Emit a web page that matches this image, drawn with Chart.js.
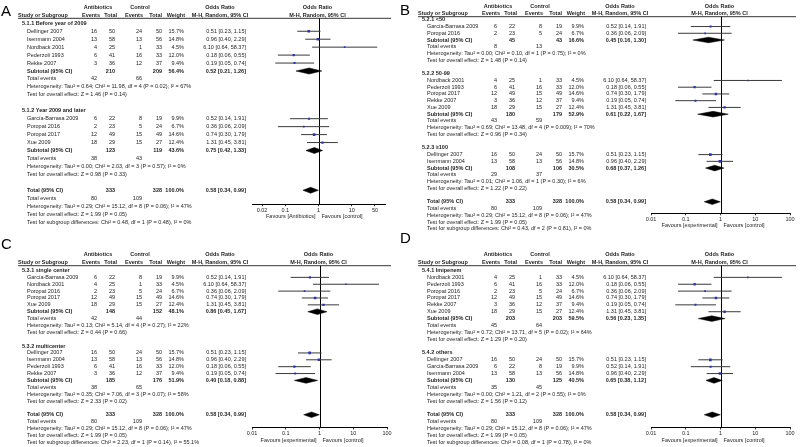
<!DOCTYPE html>
<html><head><meta charset="utf-8">
<script src="https://cdn.jsdelivr.net/npm/chart.js@4.4.1/dist/chart.umd.min.js"></script>
<style>
html,body{margin:0;padding:0;background:#fff;}
#wrap{position:relative;width:800px;height:447px;overflow:hidden;background:#fff;}
canvas{position:absolute;}
</style></head><body>
<div id="wrap">
<canvas id="cA" width="400" height="228" style="left:0;top:0"></canvas>
<canvas id="cB" width="400" height="236" style="left:400px;top:0"></canvas>
<canvas id="cC" width="400" height="222" style="left:0;top:225px"></canvas>
<canvas id="cD" width="400" height="222" style="left:400px;top:225px"></canvas>
</div>
<script>
// ---------- study data ----------
const studies = ['Dellinger 2007','Isenmann 2004','Nordback 2001','Pederzoli 1993','Rekke 2007','García-Barrasa 2009','Poropat 2016','Poropat 2017','Xue 2009'];
const abxEvents = [16,13,4,6,3,6,2,12,18];
const abxTotal  = [50,58,25,41,36,22,23,49,29];
const ctlEvents = [24,13,1,16,12,8,5,15,15];
const ctlTotal  = [50,56,33,33,37,19,24,49,27];
const weights   = [15.7,14.8,4.5,12.0,9.4,9.9,6.7,14.6,12.4];
const orEst  = [0.51,0.96,6.10,0.18,0.19,0.52,0.36,0.74,1.31];
const orLow  = [0.23,0.40,0.64,0.06,0.05,0.14,0.06,0.30,0.45];
const orHigh = [1.15,2.29,58.37,0.55,0.74,1.91,2.09,1.79,3.81];

// ---------- overall ----------
const totalAbx = 333, totalCtl = 328, totalWeight = '100.0%';
const totalOr = [0.58,0.34,0.99];
const totalEvents = [80,109];
const totalHet = 'Tau² = 0.29; Chi² = 15.12, df = 8 (P = 0.06); I² = 47%';
const totalZ = 'Z = 1.99 (P = 0.05)';

// ---------- panel A ----------
const groupsA = ['5.1.1 Before year of 2009','5.1.2 Year 2009 and later'];
const membersA = [[0,1,2,3,4],[5,6,7,8]];
const subAbxTotalA = [210,123], subCtlTotalA = [209,119];
const subWeightA = [56.4,43.6];
const subOrA = [0.52,0.75], subLowA = [0.21,0.42], subHighA = [1.26,1.33];
const subAbxEventsA = [42,38], subCtlEventsA = [66,43];
const hetA = ['Tau² = 0.64; Chi² = 11.98, df = 4 (P = 0.02); I² = 67%','Tau² = 0.00; Chi² = 2.03, df = 3 (P = 0.57); I² = 0%'];
const zA = ['Z = 1.46 (P = 0.14)','Z = 0.98 (P = 0.33)'];
const subDiffA = 'Chi² = 0.48, df = 1 (P = 0.48), I² = 0%';
const ticksA = [0.02,0.1,1,10,50];

// ---------- panel B ----------
const groupsB = ['5.2.1 <50','5.2.2 50-99','5.2.3 ≥100'];
const membersB = [[5,6],[2,3,7,4,8],[0,1]];
const subAbxTotalB = [45,180,108], subCtlTotalB = [43,179,106];
const subWeightB = [16.6,52.9,30.5];
const subOrB = [0.45,0.61,0.68], subLowB = [0.16,0.22,0.37], subHighB = [1.30,1.67,1.26];
const subAbxEventsB = [8,43,29], subCtlEventsB = [13,59,37];
const hetB = ['Tau² = 0.00; Chi² = 0.10, df = 1 (P = 0.75); I² = 0%','Tau² = 0.69; Chi² = 13.48, df = 4 (P = 0.009); I² = 70%','Tau² = 0.01; Chi² = 1.06, df = 1 (P = 0.30); I² = 6%'];
const zB = ['Z = 1.48 (P = 0.14)','Z = 0.96 (P = 0.34)','Z = 1.22 (P = 0.22)'];
const subDiffB = 'Chi² = 0.43, df = 2 (P = 0.81), I² = 0%';
const ticksB = [0.01,0.1,1,10,100];

// ---------- panel C ----------
const groupsC = ['5.3.1 single center','5.3.2 multicenter'];
const membersC = [[5,2,6,7,8],[0,1,3,4]];
const subAbxTotalC = [148,185], subCtlTotalC = [152,176];
const subWeightC = [48.1,51.9];
const subOrC = [0.86,0.40], subLowC = [0.45,0.18], subHighC = [1.67,0.88];
const subAbxEventsC = [42,38], subCtlEventsC = [44,65];
const hetC = ['Tau² = 0.13; Chi² = 5.14, df = 4 (P = 0.27); I² = 22%','Tau² = 0.35; Chi² = 7.06, df = 3 (P = 0.07); I² = 58%'];
const zC = ['Z = 0.44 (P = 0.66)','Z = 2.33 (P = 0.02)'];
const subDiffC = 'Chi² = 2.23, df = 1 (P = 0.14), I² = 55.1%';
const ticksC = [0.01,0.1,1,10,100];

// ---------- panel D ----------
const groupsD = ['5.4.1 Imipenem','5.4.2 others'];
const membersD = [[2,3,6,7,4,8],[0,5,1]];
const subAbxTotalD = [203,130], subCtlTotalD = [203,125];
const subWeightD = [59.5,40.5];
const subOrD = [0.56,0.65], subLowD = [0.23,0.38], subHighD = [1.35,1.12];
const subAbxEventsD = [45,35], subCtlEventsD = [64,45];
const hetD = ['Tau² = 0.72; Chi² = 13.71, df = 5 (P = 0.02); I² = 64%','Tau² = 0.00; Chi² = 1.21, df = 2 (P = 0.55); I² = 0%'];
const zD = ['Z = 1.29 (P = 0.20)','Z = 1.56 (P = 0.12)'];
const subDiffD = 'Chi² = 0.08, df = 1 (P = 0.78), I² = 0%';
const ticksD = [0.01,0.1,1,10,100];

// ---------- rendering ----------
const FAM = '"Liberation Sans", Arial, Helvetica, sans-serif';
const FS = 5.5;
const TXT = '#1e1e1e';
const SQ = '#2f37a6';
Chart.defaults.font.family = FAM;

function fmtOR(e,l,h){return e.toFixed(2)+' ['+l.toFixed(2)+', '+h.toFixed(2)+']';}

const COL = {hdr:18, grp:22, name:27, ev1:97, tot1:115, ev2:142, tot2:162, wt:184, or:246};

function makePanel(id, geo, P){
  const rows = [];
  const pts = [], ciSets = [], dia = [];
  let r = 0;
  P.groups.forEach((g,gi)=>{
    rows.push({r:r++, name:g, x:COL.grp, bold:true});
    P.members[gi].forEach(i=>{
      rows.push({r:r, name:studies[i], x:COL.name, ev1:abxEvents[i], tot1:abxTotal[i], ev2:ctlEvents[i], tot2:ctlTotal[i], wt:weights[i].toFixed(1)+'%', or:fmtOR(orEst[i],orLow[i],orHigh[i])});
      pts.push({x:orEst[i], y:r, w:weights[i]});
      ciSets.push([{x:orLow[i],y:r},{x:orHigh[i],y:r}]);
      r++;
    });
    rows.push({r:r, name:'Subtotal (95% CI)', x:COL.name, bold:true, tot1:P.subAbxTotal[gi], tot2:P.subCtlTotal[gi], wt:P.subWeight[gi].toFixed(1)+'%', or:fmtOR(P.subOr[gi],P.subLow[gi],P.subHigh[gi])});
    dia.push({r:r, e:P.subOr[gi], l:P.subLow[gi], h:P.subHigh[gi]});
    r++;
    rows.push({r:r++, name:'Total events', x:COL.name, ev1:P.subAbxEvents[gi], ev2:P.subCtlEvents[gi]});
    rows.push({r:r++, name:'Heterogeneity: '+P.het[gi], x:COL.name});
    rows.push({r:r++, name:'Test for overall effect: '+P.z[gi], x:COL.name});
    r++;
  });
  rows.push({r:r, name:'Total (95% CI)', x:COL.name, bold:true, tot1:totalAbx, tot2:totalCtl, wt:totalWeight, or:fmtOR(totalOr[0],totalOr[1],totalOr[2])});
  dia.push({r:r, e:totalOr[0], l:totalOr[1], h:totalOr[2]});
  r++;
  rows.push({r:r++, name:'Total events', x:COL.name, ev1:totalEvents[0], ev2:totalEvents[1]});
  rows.push({r:r++, name:'Heterogeneity: '+totalHet, x:COL.name});
  rows.push({r:r++, name:'Test for overall effect: '+totalZ, x:COL.name});
  rows.push({r:r++, name:'Test for subgroup differences: '+P.subDiff, x:COL.name});

  const datasets = [];
  datasets.push({data:pts.map(p=>({x:p.x,y:p.y})), pointStyle:'rect', pointRadius:pts.map(p=>(1.1+0.1*p.w)/1.414), backgroundColor:SQ, borderWidth:0, showLine:false});
  ciSets.forEach(d=>datasets.push({data:d, showLine:true, borderColor:'#3a3a3a', borderWidth:1, pointRadius:0}));
  const dh = geo.dh / geo.s;
  dia.forEach(d=>datasets.push({data:[{x:d.l,y:d.r},{x:d.e,y:d.r-dh},{x:d.h,y:d.r},{x:d.e,y:d.r+dh},{x:d.l,y:d.r}], showLine:true, fill:'shape', borderColor:'#000', backgroundColor:'#000', borderWidth:0.5, pointRadius:0, tension:0}));

  const W = geo.W, H = geo.H, XH = 12;
  const font = (b)=>(b?'bold ':'')+FS+'px '+FAM;
  const textPlugin = {
    id:'forestText',
    beforeDatasetsDraw(chart){
      const ctx = chart.ctx, xs = chart.scales.x, ca = chart.chartArea;
      ctx.save();
      ctx.strokeStyle = '#000'; ctx.lineWidth = 1;
      const x1 = Math.round(xs.getPixelForValue(1))+0.5;
      ctx.beginPath(); ctx.moveTo(x1, ca.top); ctx.lineTo(x1, ca.bottom); ctx.stroke();
      ctx.restore();
    },
    afterDraw(chart){
      const ctx = chart.ctx, ys = chart.scales.y, xs = chart.scales.x;
      ctx.save();
      ctx.font = '15px '+FAM; ctx.textAlign='left'; ctx.textBaseline='alphabetic'; ctx.fillStyle='#000';
      ctx.fillText(geo.letter, geo.lx, geo.ly);
      ctx.textBaseline = 'middle'; ctx.fillStyle = TXT;
      ctx.font = font(true);
      ctx.textAlign='center';
      ctx.fillText('Antibiotics', 98, geo.h1);
      ctx.fillText('Control', 140, geo.h1);
      ctx.fillText('Odds Ratio', 220, geo.h1);
      const x1 = xs.getPixelForValue(1);
      ctx.fillText('Odds Ratio', x1-1, geo.h1);
      ctx.textAlign='left'; ctx.fillText('Study or Subgroup', COL.hdr, geo.h2);
      ctx.textAlign='right';
      ctx.fillText('Events', 100, geo.h2); ctx.fillText('Total', 117, geo.h2);
      ctx.fillText('Events', 143, geo.h2); ctx.fillText('Total', 162, geo.h2);
      ctx.fillText('Weight', 185, geo.h2);
      ctx.textAlign='center';
      ctx.fillText('M-H, Random, 95% CI', 220, geo.h2);
      ctx.fillText('M-H, Random, 95% CI', x1-1, geo.h2);
      ctx.strokeStyle='#000'; ctx.lineWidth=0.8;
      ctx.beginPath(); ctx.moveTo(COL.hdr, geo.ul); ctx.lineTo(geo.ulR, geo.ul); ctx.stroke();
      rows.forEach(row=>{
        const y = ys.getPixelForValue(row.r);
        ctx.font = font(row.bold);
        ctx.textAlign='left'; ctx.fillText(row.name, row.x, y);
        ctx.textAlign='right';
        if(row.ev1!==undefined) ctx.fillText(String(row.ev1), COL.ev1, y);
        if(row.tot1!==undefined) ctx.fillText(String(row.tot1), COL.tot1, y);
        if(row.ev2!==undefined) ctx.fillText(String(row.ev2), COL.ev2, y);
        if(row.tot2!==undefined) ctx.fillText(String(row.tot2), COL.tot2, y);
        if(row.wt!==undefined) ctx.fillText(row.wt, COL.wt, y);
        if(row.or!==undefined) ctx.fillText(row.or, COL.or, y);
      });
      ctx.font = font(false);
      const fy = chart.chartArea.bottom + 12.5;
      ctx.textAlign='right'; ctx.fillText(P.favL, x1-3, fy);
      ctx.textAlign='left'; ctx.fillText('Favours [control]', x1+3, fy);
      ctx.restore();
    }
  };

  new Chart(document.getElementById(id), {
    type:'scatter',
    data:{datasets},
    options:{
      responsive:false, animation:false, events:[],
      layout:{padding:{left:geo.pl, right:W-geo.pr, top:geo.top, bottom:H-geo.axis-XH}},
      plugins:{legend:{display:false}, tooltip:{enabled:false}},
      scales:{
        x:{type:'logarithmic', min:geo.xmin, max:geo.xmax, position:'bottom',
          grid:{display:true, drawOnChartArea:false, drawTicks:true, tickLength:2, color:'#000', lineWidth:0.8},
          border:{display:true, color:'#000', width:1},
          ticks:{font:{size:FS, family:FAM}, color:TXT, padding:1, autoSkip:false, maxRotation:0, minRotation:0, callback:(v)=>String(v)},
          afterBuildTicks:(sc)=>{sc.ticks = P.ticks.map(v=>({value:v}));},
          afterFit:(sc)=>{sc.height = XH;}
        },
        y:{type:'linear', display:false, reverse:true, min:(geo.top-geo.y0)/geo.s, max:(geo.axis-geo.y0)/geo.s}
      }
    },
    plugins:[textPlugin]
  });
}

makePanel('cA', {W:400,H:228,pl:252,pr:385,top:18.3,axis:204.3,y0:23.3,s:7.95,dh:3,h1:7.5,h2:15,ul:18.3,ulR:391,xmin:0.01,xmax:100,letter:'A',lx:1,ly:16},
  {groups:groupsA,members:membersA,subAbxTotal:subAbxTotalA,subCtlTotal:subCtlTotalA,subWeight:subWeightA,subOr:subOrA,subLow:subLowA,subHigh:subHighA,subAbxEvents:subAbxEventsA,subCtlEvents:subCtlEventsA,het:hetA,z:zA,subDiff:subDiffA,ticks:ticksA,favL:'Favours [Antibiotics]'});
makePanel('cB', {W:400,H:236,pl:251,pr:390,top:16.7,axis:213.3,y0:19.8,s:6.74,dh:2.8,h1:6.5,h2:13.5,ul:16.7,ulR:396,xmin:0.01,xmax:100,letter:'B',lx:0,ly:14.5},
  {groups:groupsB,members:membersB,subAbxTotal:subAbxTotalB,subCtlTotal:subCtlTotalB,subWeight:subWeightB,subOr:subOrB,subLow:subLowB,subHigh:subHighB,subAbxEvents:subAbxEventsB,subCtlEvents:subCtlEventsB,het:hetB,z:zB,subDiff:subDiffB,ticks:ticksB,favL:'Favours [experimental]'});
makePanel('cC', {W:400,H:222,pl:252,pr:387,top:40.7,axis:202.5,y0:45.5,s:6.87,dh:2.8,h1:29,h2:37,ul:40.7,ulR:391,xmin:0.01,xmax:100,letter:'C',lx:1,ly:24},
  {groups:groupsC,members:membersC,subAbxTotal:subAbxTotalC,subCtlTotal:subCtlTotalC,subWeight:subWeightC,subOr:subOrC,subLow:subLowC,subHigh:subHighC,subAbxEvents:subAbxEventsC,subCtlEvents:subCtlEventsC,het:hetC,z:zC,subDiff:subDiffC,ticks:ticksC,favL:'Favours [experimental]'});
makePanel('cD', {W:400,H:222,pl:251,pr:390,top:40.7,axis:202.5,y0:45.5,s:6.87,dh:2.8,h1:29,h2:37,ul:40.7,ulR:396,xmin:0.01,xmax:100,letter:'D',lx:0,ly:18},
  {groups:groupsD,members:membersD,subAbxTotal:subAbxTotalD,subCtlTotal:subCtlTotalD,subWeight:subWeightD,subOr:subOrD,subLow:subLowD,subHigh:subHighD,subAbxEvents:subAbxEventsD,subCtlEvents:subCtlEventsD,het:hetD,z:zD,subDiff:subDiffD,ticks:ticksD,favL:'Favours [experimental]'});
</script>
</body></html>
